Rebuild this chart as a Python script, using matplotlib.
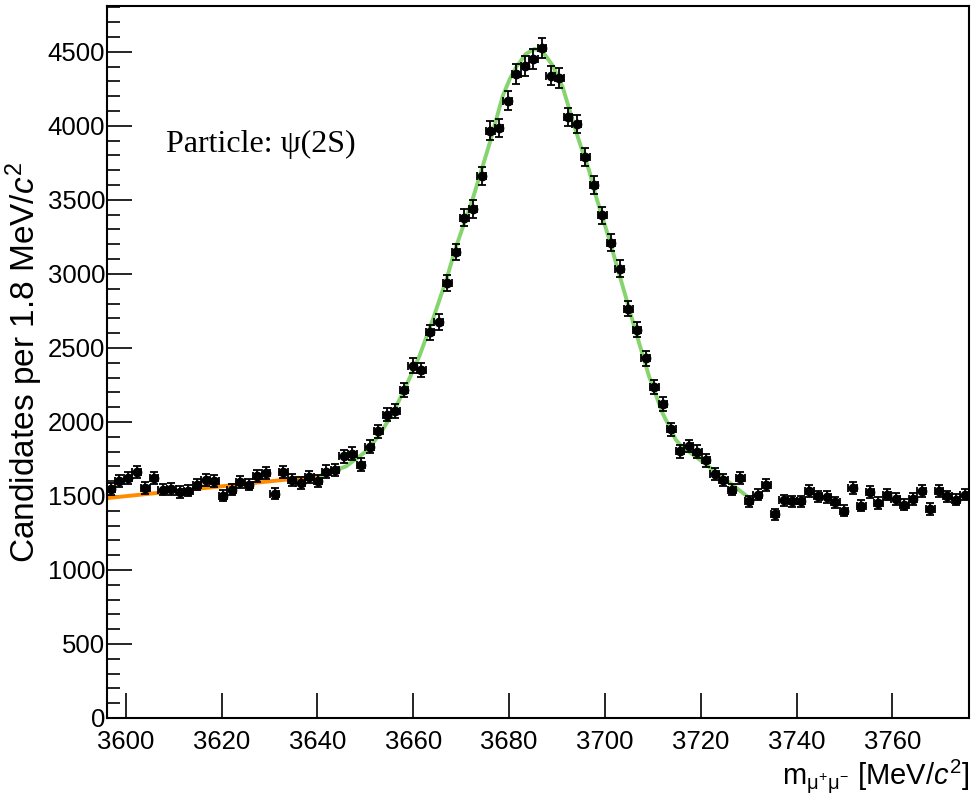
import numpy as np
import matplotlib
matplotlib.use('Agg')
import matplotlib.pyplot as plt
from matplotlib.ticker import MultipleLocator

plt.rcParams['font.family'] = ['Liberation Sans', 'DejaVu Sans']
plt.rcParams['mathtext.fontset'] = 'custom'
plt.rcParams['mathtext.rm'] = 'Liberation Sans'
plt.rcParams['mathtext.it'] = 'Liberation Sans:italic'

# histogram: 100 bins of 1.8 MeV from 3596 to 3776
x_lo = 3596.0
bin_width = 1.8
counts = [1548, 1599, 1622, 1660, 1554, 1622, 1543, 1548, 1525, 1536,
          1577, 1610, 1599, 1502, 1543, 1592, 1577, 1633, 1656, 1516,
          1660, 1610, 1588, 1625, 1599, 1665, 1675, 1768, 1786, 1712,
          1832, 1937, 2050, 2073, 2213, 2380, 2350, 2607, 2675, 2941,
          3149, 3381, 3438, 3663, 3967, 3986, 4170, 4351, 4403, 4453,
          4524, 4340, 4322, 4060, 4013, 3790, 3603, 3395, 3212, 3036,
          2766, 2623, 2430, 2235, 2122, 1950, 1802, 1838, 1800, 1740,
          1650, 1605, 1543, 1622, 1464, 1509, 1572, 1378, 1471, 1464,
          1464, 1532, 1498, 1493, 1457, 1401, 1554, 1434, 1525, 1453,
          1509, 1480, 1441, 1480, 1532, 1412, 1532, 1498, 1475, 1509]

# signal fit curve
sig_m = [3640.3, 3646.0, 3650.2, 3653.0, 3655.8, 3658.5, 3661.3, 3664.1,
         3666.9, 3669.0, 3672.4, 3675.9, 3678.7, 3680.2, 3681.5, 3683.5,
         3685.3, 3687.0, 3689.1, 3691.2, 3692.6, 3694.0, 3695.3, 3696.7,
         3698.1, 3700.9, 3703.7, 3706.5, 3709.2, 3712.0, 3714.8, 3716.0,
         3720.0, 3725.0, 3730.0]
sig_y = [1633, 1700, 1802, 1915, 2062, 2242, 2445, 2693,
         2960, 3189, 3505, 3877, 4204, 4320, 4397, 4486,
         4520, 4502, 4408, 4261, 4110, 3960, 3830, 3700,
         3528, 3235, 2919, 2603, 2310, 2062, 1880, 1835,
         1740, 1615, 1490]

# background line
bkg_m = [3596.0, 3640.3]
bkg_y = [1485, 1633]

centers = x_lo + bin_width * (np.arange(len(counts)) + 0.5)
counts = np.array(counts, dtype=float)
errs = np.sqrt(counts)

fig = plt.figure(figsize=(9.71, 7.96), dpi=100)
ax = fig.add_axes([0.1097, 0.098, 0.8883, 0.8945])

ax.plot(bkg_m, bkg_y, color='#ff8c00', lw=2.8, zorder=2)
ax.plot(sig_m, sig_y, color='#86d46e', lw=2.8, zorder=2)
ax.errorbar(centers, counts, yerr=errs, xerr=bin_width / 2, fmt='o', color='black',
            markersize=6, elinewidth=1.3, capsize=3, capthick=1.3, zorder=3)

ax.set_xlim(3596, 3776)
ax.set_ylim(0, 4810)

ax.xaxis.set_major_locator(MultipleLocator(20))
ax.yaxis.set_major_locator(MultipleLocator(500))
ax.yaxis.set_minor_locator(MultipleLocator(100))
ax.tick_params(axis='both', which='both', direction='in', labelsize=18.5)
ax.tick_params(axis='x', which='major', length=18, width=1.2, pad=9)
ax.tick_params(axis='y', which='major', length=18, width=1.2, pad=1)
ax.tick_params(axis='y', which='minor', length=9, width=1.2)
for s in ax.spines.values():
    s.set_linewidth(1.5)

ax.set_xlabel(r'm$_{\mathrm{μ^{+}μ^{-}}}$ [MeV/$c^{2}$]', fontsize=21, loc='right', labelpad=2)
ax.set_ylabel(r'Candidates per 1.8 MeV/$c^{2}$', fontsize=24, labelpad=2)

ax.text(0.069, 0.795, 'Particle: ψ(2S)', transform=ax.transAxes, fontsize=23,
        family=['Liberation Serif', 'DejaVu Serif'], va='baseline')

plt.savefig('out.png', dpi=100)
